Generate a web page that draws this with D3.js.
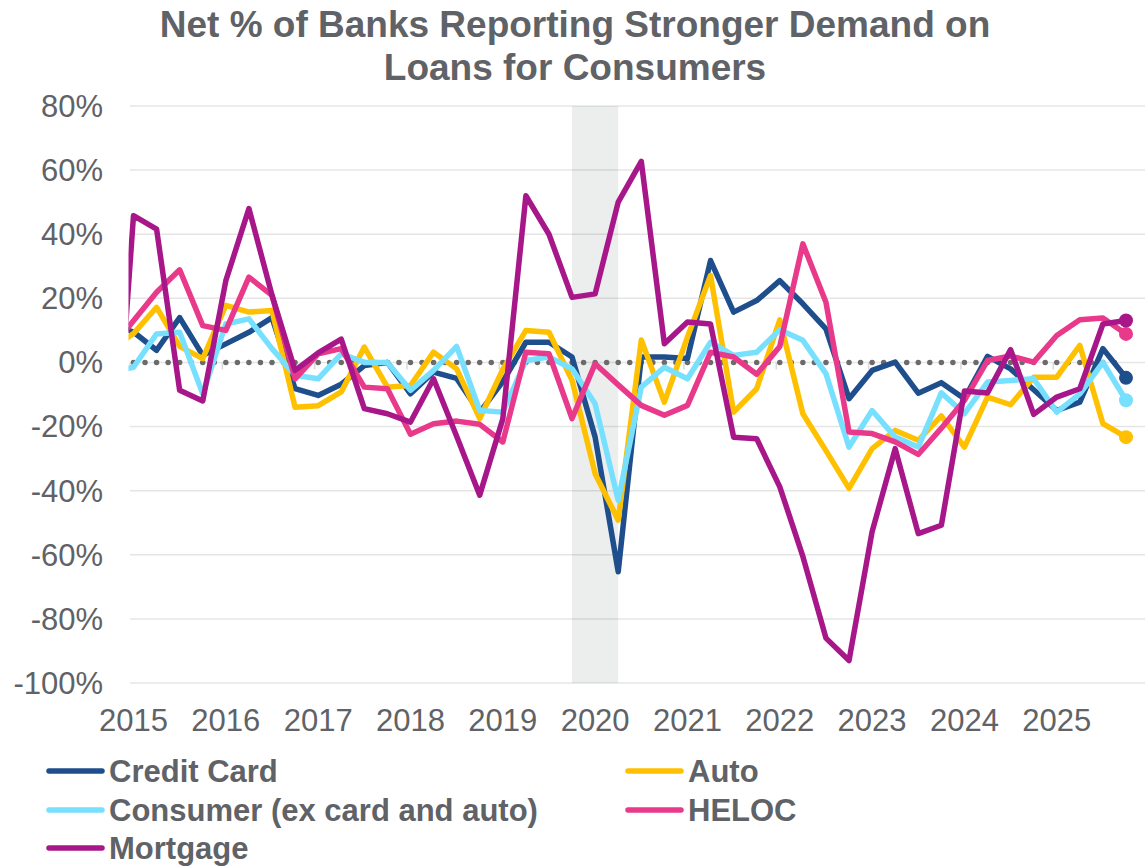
<!DOCTYPE html>
<html>
<head>
<meta charset="utf-8">
<script src="https://cdn.jsdelivr.net/npm/d3@7/dist/d3.min.js"></script>
<style>
  html, body { margin: 0; padding: 0; background: #ffffff; }
  svg { display: block; }
  text { font-family: "Liberation Sans", Arial, sans-serif; fill: #5f6266; }
</style>
</head>
<body>
<svg id="chart" width="1145" height="866"></svg>
<script>
// Quarterly survey readings, 2014Q4 through 2025Q4 (net % of banks reporting stronger demand)
const quarters = [
  "2014Q4",
  "2015Q1","2015Q2","2015Q3","2015Q4","2016Q1","2016Q2","2016Q3","2016Q4",
  "2017Q1","2017Q2","2017Q3","2017Q4","2018Q1","2018Q2","2018Q3","2018Q4",
  "2019Q1","2019Q2","2019Q3","2019Q4","2020Q1","2020Q2","2020Q3","2020Q4",
  "2021Q1","2021Q2","2021Q3","2021Q4","2022Q1","2022Q2","2022Q3","2022Q4",
  "2023Q1","2023Q2","2023Q3","2023Q4","2024Q1","2024Q2","2024Q3","2024Q4",
  "2025Q1","2025Q2","2025Q3","2025Q4"
];

const creditCard = [
  12,
  9.5, 3.8, 14, 2.2, 5.8, 9.4, 14, -8.2,
  -10.3, -6.8, -1, 0, -9.8, -3, -5, -15.6,
  -6, 6.3, 6.3, 1.7, -23.3, -65.3, 1.7, 1.7,
  1.2, 31.8, 15.7, 19.3, 25.5, 18.3, 10.5, -11.3,
  -2.5, 0.1, -9.6, -6.3, -11.3, 1.9, -2, -8.5,
  -15, -12.4, 4.3, -4.8
];

const auto = [
  4,
  9, 17.2, 5, 1.2, 17.8, 15.7, 16.2, -14,
  -13.5, -9.2, 4.8, -7.7, -7.2, 3.2, -2, -17.5,
  -2.2, 10, 9.4, -5.6, -34.7, -49.2, 7, -12.4,
  7.9, 27.1, -15.5, -8.2, 13.3, -16, -27.5, -39.3,
  -26.9, -21.2, -24.3, -16.7, -26.4, -10.8, -13.2, -4.6,
  -4.6, 5.3, -19.1, -23.3
];

const consumerExCardAuto = [
  -3,
  -1.5, 8.9, 9.4, -9.8, 12, 13.6, 4.3, -4,
  -5.1, 2.7, 0, 0, -8.7, -2.5, 5, -15,
  -15.5, 0.6, 1.7, -2, -12.9, -43, -7.7, -1.5,
  -5.1, 6.3, 2.2, 3.2, 10.2, 6.9, -3.5, -26.4,
  -15, -23.3, -26.4, -9.5, -16, -6.1, -5.6, -5.1,
  -15.5, -9.8, 0, -11.8
];

const heloc = [
  4,
  13, 21.9, 28.9, 11.5, 10, 26.6, 20.9, -5.1,
  2.7, 4.3, -7.7, -8.2, -22.4, -19.1, -18.3, -19.3,
  -24.8, 3.2, 2.7, -17.5, -0.4, -7, -13.4, -16.5,
  -13.4, 3.2, 1.7, -3.7, 5, 37, 18.8, -21.7,
  -22.2, -24.8, -28.7, -20.5, -11.8, 0.6, 2, 0.1,
  8.4, 13.3, 13.9, 8.9
];

const mortgage = [
  -55,
  45.8, 41.6, -8.7, -12, 25.5, 48, 21, -2.5,
  3, 7.3, -14.4, -16, -18.6, -5.1, -23, -41.4,
  -17.6, 52, 40, 20.3, 21.4, 50, 62.7, 5.8,
  12.6, 12, -23.3, -23.8, -38.8, -60.5, -86, -93,
  -52.8, -26.9, -53.4, -50.8, -8.9, -9.5, 4, -16.2,
  -10.8, -8.2, 12, 13.1
];

const seriesNames  = ["Credit Card", "Auto", "Consumer (ex card and auto)", "HELOC", "Mortgage"];
const seriesValues = [creditCard, auto, consumerExCardAuto, heloc, mortgage];
const seriesColors = ["#1f4e8c", "#ffc000", "#78e0ff", "#e8398a", "#a8178a"];

const yTicks = [-100, -80, -60, -40, -20, 0, 20, 40, 60, 80];
const yearLabels = ["2015","2016","2017","2018","2019","2020","2021","2022","2023","2024","2025"];
const recession = ["2019Q4", "2020Q2"];
const title = ["Net % of Banks Reporting Stronger Demand on", "Loans for Consumers"];

// ---- layout ----
const plotLeft = 128.5, plotRight = 1145, plotTop = 106, plotBottom = 683;
const svg = d3.select("#chart");

// quarter index 0 = 2015Q1
const qIndex = q => quarters.indexOf(q) - 1;
const x = d3.scaleLinear().domain([0, 43]).range([133.5, 1126]);
const y = d3.scaleLinear().domain([-100, 80]).range([plotBottom, plotTop]);

svg.append("defs").append("clipPath").attr("id", "plotClip")
  .append("rect").attr("x", plotLeft).attr("y", 0)
  .attr("width", plotRight - plotLeft).attr("height", 866);

// recession band
svg.append("rect")
  .attr("x", x(qIndex(recession[0])))
  .attr("width", x(qIndex(recession[1])) - x(qIndex(recession[0])))
  .attr("y", y(80)).attr("height", y(-100) - y(80))
  .attr("fill", "#eceeed");

// horizontal gridlines
svg.append("g").selectAll("line").data(yTicks).join("line")
  .attr("x1", 130).attr("x2", plotRight)
  .attr("y1", d => y(d)).attr("y2", d => y(d))
  .attr("stroke", "rgba(0,0,0,0.1)").attr("stroke-width", 1.5);

// y-axis labels
svg.append("g").selectAll("text").data(yTicks).join("text")
  .attr("x", 103).attr("y", d => y(d)).attr("dy", "0.35em")
  .attr("text-anchor", "end").attr("font-size", 31)
  .text(d => d + "%");

// year tick marks on the zero line
const yearIdx = yearLabels.map((d, i) => i * 4);
svg.append("g").selectAll("line").data(yearIdx).join("line")
  .attr("x1", d => x(d) - 3.5).attr("x2", d => x(d) - 3.5)
  .attr("y1", y(0)).attr("y2", y(0) + 7)
  .attr("stroke", "#d9d9d9").attr("stroke-width", 1.5);

// x-axis year labels
svg.append("g").selectAll("text").data(yearLabels).join("text")
  .attr("x", (d, i) => x(i * 4)).attr("y", 731)
  .attr("text-anchor", "middle").attr("font-size", 31)
  .text(d => d);

// dotted zero reference
const dotGap = (x(43) - x(0)) / 86;
svg.append("line")
  .attr("x1", x(0)).attr("x2", x(43)).attr("y1", y(0)).attr("y2", y(0))
  .attr("stroke", "#6b6b6b").attr("stroke-width", 5.5)
  .attr("stroke-linecap", "round").attr("stroke-dasharray", `0 ${dotGap}`);

// series lines
const line = d3.line().x((d, i) => x(i - 1)).y(d => y(d));
const lines = svg.append("g").attr("clip-path", "url(#plotClip)");
seriesValues.forEach((vals, s) => {
  lines.append("path").datum(vals)
    .attr("d", line)
    .attr("fill", "none")
    .attr("stroke", seriesColors[s])
    .attr("stroke-width", 5.5)
    .attr("stroke-linejoin", "round")
    .attr("stroke-linecap", "round");
});

// end-point markers
seriesValues.forEach((vals, s) => {
  const last = vals.length - 1;
  svg.append("circle")
    .attr("cx", x(last - 1)).attr("cy", y(vals[last]))
    .attr("r", 7).attr("fill", seriesColors[s]);
});

// title
svg.append("g").selectAll("text").data(title).join("text")
  .attr("x", 575).attr("y", (d, i) => 37 + i * 43)
  .attr("text-anchor", "middle").attr("font-size", 37).attr("font-weight", "bold")
  .text(d => d);

// legend
const legendPos = [[49, 771], [628, 771], [49, 810], [628, 810], [49, 848]];
const legend = svg.append("g");
seriesNames.forEach((name, s) => {
  const [lx, ly] = legendPos[s];
  legend.append("line")
    .attr("x1", lx).attr("x2", lx + 53).attr("y1", ly).attr("y2", ly)
    .attr("stroke", seriesColors[s]).attr("stroke-width", 5.5)
    .attr("stroke-linecap", "round");
  legend.append("text")
    .attr("x", lx + 60).attr("y", ly + 11)
    .attr("font-size", 31).attr("font-weight", "bold")
    .text(name);
});
</script>
</body>
</html>
